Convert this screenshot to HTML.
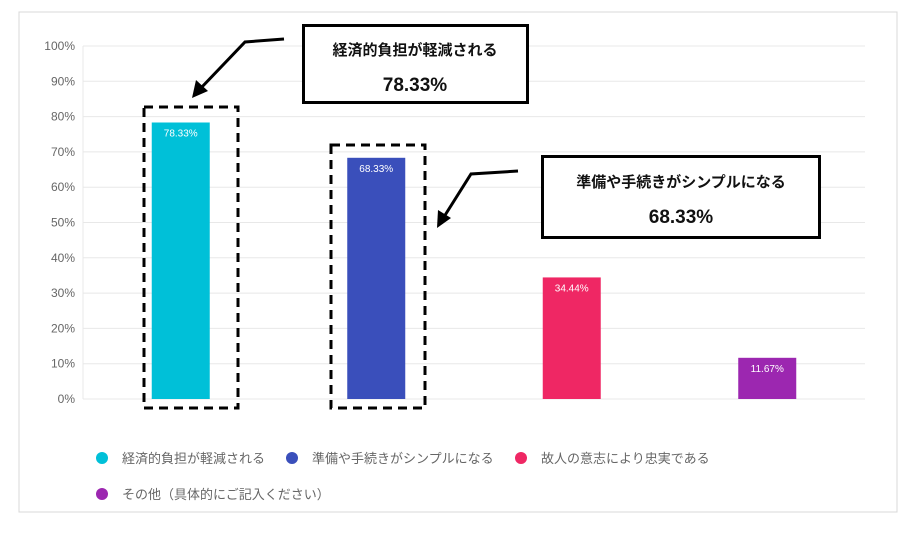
<!DOCTYPE html>
<html><head><meta charset="utf-8"><style>
body{margin:0;background:#fff;width:908px;height:528px;overflow:hidden;font-family:"Liberation Sans","Noto Sans CJK JP",sans-serif}
</style></head><body>
<svg id="chart" width="908" height="528" xmlns="http://www.w3.org/2000/svg">
<rect x="19" y="12" width="878" height="500" fill="#fff" stroke="#d8d8d8" stroke-width="1"/>
<g id="grid"></g><g id="bars"></g><g id="legend"></g>
<g>
<rect x="144" y="107" width="94" height="301" fill="none" stroke="#000" stroke-width="3" stroke-dasharray="9,6"/>
<rect x="331" y="145" width="94" height="263" fill="none" stroke="#000" stroke-width="3" stroke-dasharray="9,6"/>
<polyline points="284,39 245,42 200,89" fill="none" stroke="#000" stroke-width="3"/>
<polygon points="192,98 196,80 208,91" fill="#000"/>
<polyline points="518,171 471,174 442,220" fill="none" stroke="#000" stroke-width="3"/>
<polygon points="437,228 438,210 451,218" fill="#000"/>
<rect x="303.5" y="25.5" width="224" height="77" fill="#fff" stroke="#000" stroke-width="3"/>
<text x="415" y="55" text-anchor="middle" font-size="15" font-weight="bold" fill="#111">経済的負担が軽減される</text>
<text x="415" y="91" text-anchor="middle" font-size="19" font-weight="bold" fill="#111">78.33%</text>
<rect x="542.5" y="156.5" width="277" height="81" fill="#fff" stroke="#000" stroke-width="3"/>
<text x="681" y="187" text-anchor="middle" font-size="15" font-weight="bold" fill="#111">準備や手続きがシンプルになる</text>
<text x="681" y="223" text-anchor="middle" font-size="19" font-weight="bold" fill="#111">68.33%</text>
</g>
</svg>
<script>
const categories=["経済的負担が軽減される","準備や手続きがシンプルになる","故人の意志により忠実である","その他（具体的にご記入ください）"];
const values=[78.33,68.33,34.44,11.67];
const colors=["#00c0d8","#3a4fbb","#ef2764","#9c27b0"];
const ticks=[0,10,20,30,40,50,60,70,80,90,100];
const NS="http://www.w3.org/2000/svg";
const x0=83,x1=865,y0=399,y100=46;
const yS=v=>y0-(y0-y100)*v/100;
const band=(x1-x0)/categories.length;
const xC=i=>x0+band*(i+0.5);
function mk(t,a,p){const e=document.createElementNS(NS,t);for(const k in a)e.setAttribute(k,a[k]);p.appendChild(e);return e;}
const g=document.getElementById('grid');
ticks.forEach(t=>{
 const l=mk('line',{x1:x0,x2:x1,y1:yS(t),y2:yS(t),stroke:'#e8e8e8','stroke-width':1},g);
 
 
 const tx=mk('text',{x:75,y:yS(t)+4,'text-anchor':'end','font-size':12,fill:'#666'},g);
 tx.textContent=t+'%';
 
 
});
const va=mk('line',{x1:x0,x2:x0,y1:y100,y2:y0,stroke:'#e8e8e8'},g);


const b=document.getElementById('bars');
values.forEach((v,i)=>{
 const r=mk('rect',{x:xC(i)-29,y:yS(v),width:58,height:y0-yS(v),fill:colors[i]},b);
 
 
 const t=mk('text',{x:xC(i),y:yS(v)+14,'text-anchor':'middle','font-size':10,fill:'#fff'},b);
 t.textContent=v.toFixed(2)+'%';
 
 
});
const lg=document.getElementById('legend');
const lpos=[[102,458],[292,458],[521,458],[102,494]];
categories.forEach((c,i)=>{
 const d=mk('circle',{cx:lpos[i][0],cy:lpos[i][1],r:6,fill:colors[i]},lg);
 
 
 const t=mk('text',{x:lpos[i][0]+20,y:lpos[i][1]+5,'font-size':13,fill:'#666'},lg);
 t.textContent=c;
 
 
});
</script>
</body></html>
